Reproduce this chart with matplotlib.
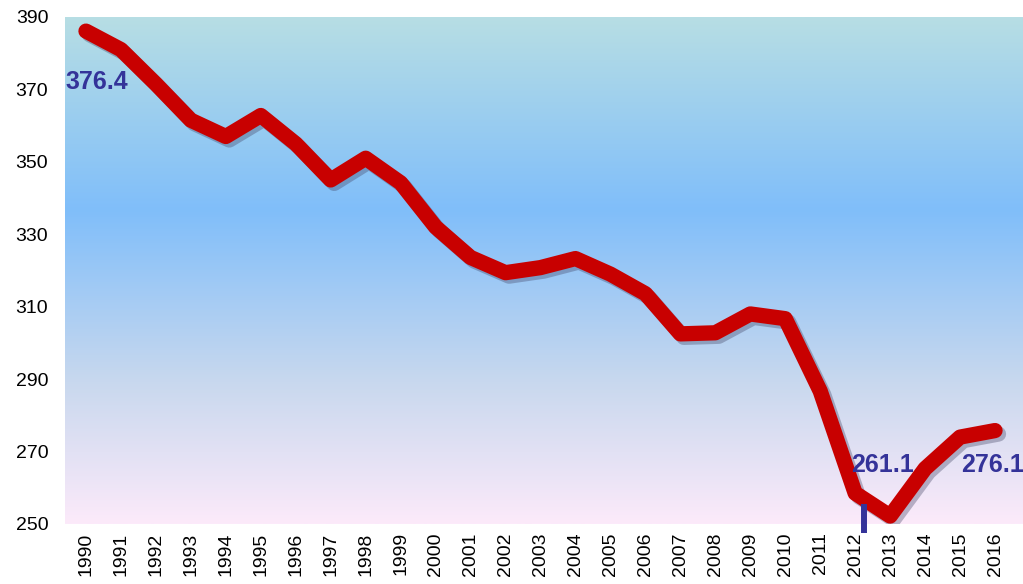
"""
Declining emissions trend 1990-2016 on a vertical gradient background.
"""

import numpy as np
import matplotlib
matplotlib.use("Agg")
import matplotlib.pyplot as plt
import matplotlib.patheffects as pe
from matplotlib.colors import LinearSegmentedColormap

plt.rcParams["font.family"] = ["Liberation Sans", "DejaVu Sans"]

YEARS = list(range(1990, 2017))
VALUES = [386.1, 381.0, 371.5, 361.5, 357.0, 362.8, 355.0, 345.0, 351.0, 344.2,
          332.0, 323.6, 319.4, 320.8, 323.3, 319.0, 313.6, 302.5, 302.8, 308.0,
          306.7, 286.7, 258.5, 252.2, 265.3, 274.0, 275.8]

# annotated values (as printed on the original)
LABELS = [("376.4", 1990.3, 372.0, "center"),
          ("261.1", 2012.77, 266.4, "center"),
          ("276.1", 2015.02, 266.4, "left")]

Y_TICKS = list(range(250, 391, 20))

LINE_RED = "#c80000"
LABEL_BLUE = "#343399"

# background gradient stops (top -> bottom)
GRAD = [(0.0, (183 / 255, 222 / 255, 228 / 255)),
        (0.38, (128 / 255, 190 / 255, 250 / 255)),
        (0.72, (200 / 255, 216 / 255, 238 / 255)),
        (1.0, (252 / 255, 234 / 255, 250 / 255))]

W, H = 1023, 584
fig = plt.figure(figsize=(W / 100, H / 100), dpi=100)
ax = fig.add_axes([65 / W, (H - 524) / H, (W - 65) / W, (524 - 17) / H])

xmin, xmax = 1989.4, 2016.8
ymin, ymax = 250, 390
cmap = LinearSegmentedColormap.from_list("bg", GRAD)
grad = np.linspace(0, 1, 256).reshape(-1, 1)
ax.imshow(grad, cmap=cmap, aspect="auto", extent=(xmin, xmax, ymin, ymax),
          origin="upper", zorder=0)

ax.plot(YEARS, VALUES, color=LINE_RED, lw=11, solid_capstyle="round",
        solid_joinstyle="round", zorder=3,
        path_effects=[pe.SimpleLineShadow(offset=(2.5, -2.5), shadow_color="#404060", alpha=0.35),
                      pe.Normal()])

for txt, x, y, ha in LABELS:
    ax.text(x, y, txt, color=LABEL_BLUE, fontsize=18, fontweight="bold",
            ha=ha, va="center", zorder=4)

# small marker under 2012
ax.plot([2012.25, 2012.25], [255.6, 247.4], color=LABEL_BLUE, lw=4.3,
        solid_capstyle="butt", clip_on=False, zorder=5)

ax.set_xlim(xmin, xmax)
ax.set_ylim(ymin, ymax)
ax.set_xticks(YEARS)
ax.set_xticklabels([str(y) for y in YEARS], rotation=90, fontsize=14)
ax.set_yticks(Y_TICKS)
ax.set_yticklabels([str(v) for v in Y_TICKS], fontsize=14)
ax.tick_params(length=0, pad=6)
ax.tick_params(axis="y", pad=12)
for s in ax.spines.values():
    s.set_visible(False)

fig.savefig("out.png", dpi=100)
